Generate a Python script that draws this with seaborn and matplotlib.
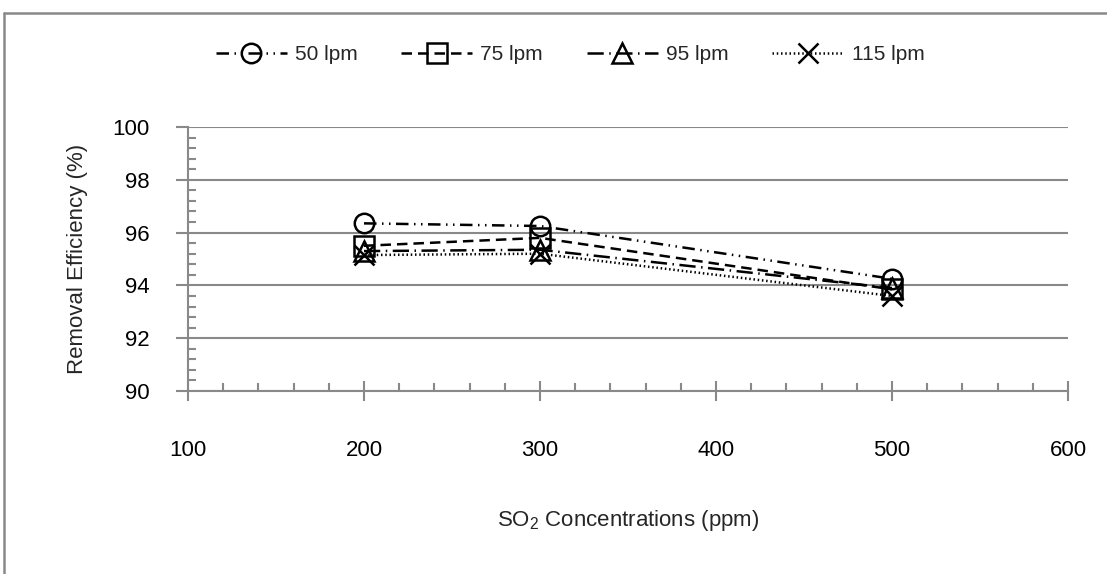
import numpy as np
import pandas as pd
import matplotlib
matplotlib.use("Agg")
import matplotlib.pyplot as plt
from matplotlib.lines import Line2D
from matplotlib.ticker import MultipleLocator
import seaborn as sns

# SO2 inlet concentrations (ppm) and removal efficiency (%) per gas flow rate
concentrations = [200, 300, 500]
eff_50 = [96.35, 96.25, 94.25]
eff_75 = [95.5, 95.8, 93.85]
eff_95 = [95.3, 95.35, 93.9]
eff_115 = [95.15, 95.2, 93.6]
series_labels = ["50 lpm", "75 lpm", "95 lpm", "115 lpm"]

sns.set_theme(style="white")
plt.rcParams["font.family"] = ["Liberation Sans", "DejaVu Sans"]
plt.rcParams["mathtext.default"] = "regular"

GREY = "#898989"
FS = 16

df = pd.DataFrame({
    "conc": concentrations * 4,
    "eff": eff_50 + eff_75 + eff_95 + eff_115,
    "flow": np.repeat(series_labels, len(concentrations)),
})

styles = {
    "50 lpm": dict(marker="o", dashes=(5, 2.2, 0.6, 2.2, 0.6, 2.2)),
    "75 lpm": dict(marker="s", dashes=(4.2, 2.4)),
    "95 lpm": dict(marker="^", dashes=(6.5, 2.2, 0.6, 2.2)),
    "115 lpm": dict(marker="x", dashes=(0.6, 1.1)),
}

fig = plt.figure(figsize=(11.07, 5.74), dpi=100)
ax = fig.add_axes([188 / 1107, 1 - 391 / 574, 880 / 1107, 264 / 574])

handles = []
for name in series_labels:
    st = styles[name]
    sub = df[df["flow"] == name]
    kw = dict(color="black", lw=1.8, marker=st["marker"], markersize=14,
              markerfacecolor="none", markeredgecolor="black",
              markeredgewidth=1.8, dashes=st["dashes"])
    if st["marker"] == "x":
        kw["markersize"] = 15
    sns.lineplot(data=sub, x="conc", y="eff", ax=ax, legend=False, **kw)
    handles.append(Line2D([], [], label=name, **kw))

ax.set_xlim(100, 600)
ax.set_ylim(90, 100)
ax.xaxis.set_major_locator(MultipleLocator(100))
ax.xaxis.set_minor_locator(MultipleLocator(20))
ax.yaxis.set_major_locator(MultipleLocator(2))
ax.yaxis.set_minor_locator(MultipleLocator(0.4))

ax.grid(axis="y", which="major", color=GREY, lw=1.5)
ax.grid(axis="x", visible=False)
ax.set_axisbelow(True)
for side in ["top", "right"]:
    ax.spines[side].set_visible(False)
for side in ["left", "bottom"]:
    ax.spines[side].set_color(GREY)
    ax.spines[side].set_linewidth(1.5)

ax.tick_params(axis="x", which="major", direction="inout", length=14.5, width=1.5,
               color=GREY, pad=28, labelsize=FS, labelcolor="black", bottom=True)
ax.tick_params(axis="x", which="minor", direction="in", length=6, width=1.5,
               color=GREY, bottom=True)
ax.tick_params(axis="y", which="major", direction="out", length=8.6, width=1.5,
               color=GREY, pad=19, labelsize=FS, labelcolor="black", left=True)
ax.tick_params(axis="y", which="minor", direction="in", length=6, width=1.5,
               color=GREY, left=True)

ax.set_xlabel("SO$_2$ Concentrations (ppm)", fontsize=FS)
ax.set_ylabel("Removal Efficiency (%)", fontsize=FS)
ax.xaxis.set_label_coords(0.5, -0.443)
ax.yaxis.set_label_coords(-0.1136, 0.5)

fig.legend(handles=handles, loc="center", ncol=4, frameon=False,
           bbox_to_anchor=(570 / 1107, 1 - 55 / 574), fontsize=15,
           handlelength=3.4, handletextpad=0.4, columnspacing=2.1)

# Outer frame along the top and left edges
fig.add_artist(Line2D([4 / 1107, 4 / 1107], [0, 1 - 13 / 574], transform=fig.transFigure,
                      color=GREY, lw=1.8))
fig.add_artist(Line2D([4 / 1107, 1], [1 - 13 / 574, 1 - 13 / 574], transform=fig.transFigure,
                      color=GREY, lw=1.8))

fig.savefig("out.png", dpi=100, facecolor="white")
